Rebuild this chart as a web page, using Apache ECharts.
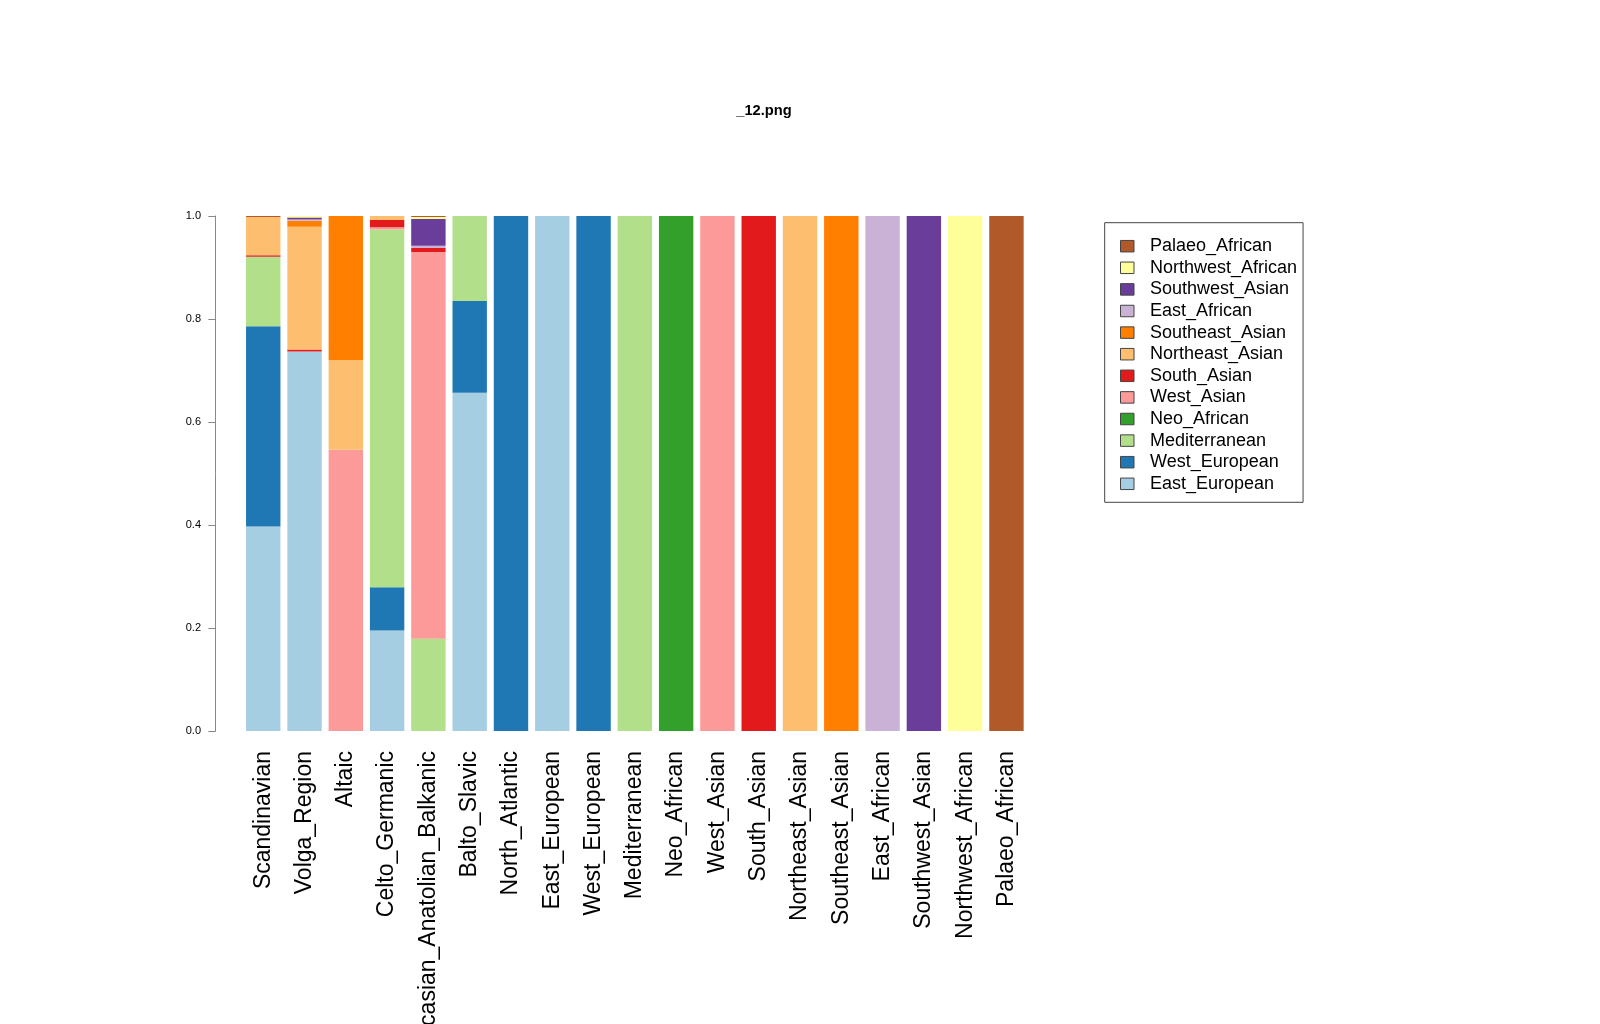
<!DOCTYPE html>
<html>
<head>
<meta charset="utf-8">
<script src="https://cdn.jsdelivr.net/npm/echarts@6/dist/echarts.min.js"></script>
<style>html,body{margin:0;padding:0;background:#fff}#c{width:1600px;height:1024px}</style>
</head>
<body>
<div id="c"></div>
<script>
const categories = ["Scandinavian","Volga_Region","Altaic","Celto_Germanic","Caucasian_Anatolian_Balkanic","Balto_Slavic","North_Atlantic","East_European","West_European","Mediterranean","Neo_African","West_Asian","South_Asian","Northeast_Asian","Southeast_Asian","East_African","Southwest_Asian","Northwest_African","Palaeo_African"];
const componentNames = ["East_European","West_European","Mediterranean","Neo_African","West_Asian","South_Asian","Northeast_Asian","Southeast_Asian","East_African","Southwest_Asian","Northwest_African","Palaeo_African"];
const componentColors = ["#A6CEE3","#1F78B4","#B2DF8A","#33A02C","#FB9A99","#E31A1C","#FDBF6F","#FF7F00","#CAB2D6","#6A3D9A","#FFFF99","#B15928"];
const East_European    = [0.397,0.737,0,0.195,0,0.657,0,1,0,0,0,0,0,0,0,0,0,0,0];
const West_European    = [0.389,0,0,0.084,0,0.178,1,0,1,0,0,0,0,0,0,0,0,0,0];
const Mediterranean    = [0.135,0,0,0.695,0.179,0.165,0,0,0,1,0,0,0,0,0,0,0,0,0];
const Neo_African      = [0,0,0,0,0,0,0,0,0,0,1,0,0,0,0,0,0,0,0];
const West_Asian       = [0,0,0.546,0.004,0.751,0,0,0,0,0,0,1,0,0,0,0,0,0,0];
const South_Asian      = [0.003,0.004,0,0.014,0.008,0,0,0,0,0,0,0,1,0,0,0,0,0,0];
const Northeast_Asian  = [0.074,0.238,0.174,0.008,0,0,0,0,0,0,0,0,0,1,0,0,0,0,0];
const Southeast_Asian  = [0,0.012,0.280,0,0,0,0,0,0,0,0,0,0,0,1,0,0,0,0];
const East_African     = [0,0.002,0,0,0.004,0,0,0,0,0,0,0,0,0,0,1,0,0,0];
const Southwest_Asian  = [0,0.004,0,0,0.052,0,0,0,0,0,0,0,0,0,0,0,1,0,0];
const Northwest_African= [0,0.003,0,0,0.004,0,0,0,0,0,0,0,0,0,0,0,0,1,0];
const Palaeo_African   = [0.002,0,0,0,0.002,0,0,0,0,0,0,0,0,0,0,0,0,0,1];
const seriesValues = [East_European,West_European,Mediterranean,Neo_African,West_Asian,South_Asian,Northeast_Asian,Southeast_Asian,East_African,Southwest_Asian,Northwest_African,Palaeo_African];
const yTicks = [0,0.2,0.4,0.6,0.8,1.0];
const titleText = "_12.png";

const FONT = "Liberation Sans, Arial, Helvetica, sans-serif";
const chart = echarts.init(document.getElementById('c'), null, {renderer:'canvas'});
const series = componentNames.map((n,i)=>({
  name:n, type:'bar', stack:'all', data:seriesValues[i],
  itemStyle:{color:componentColors[i]}, barCategoryGap:'16.667%',
  emphasis:{disabled:true}
}));
chart.setOption({
  backgroundColor:'#ffffff',
  animation:false,
  textStyle:{fontFamily:FONT},
  title:{text:titleText,left:759,top:98,textAlign:'center',
    textStyle:{fontSize:14.7,fontWeight:'bold',color:'#000',fontFamily:FONT}},
  grid:{left:242.6,right:572.9,top:216,bottom:293,containLabel:false,outerBoundsMode:'none'},
  xAxis:{type:'category',data:categories,
    axisLine:{show:false},axisTick:{show:false},
    axisLabel:{rotate:90,fontSize:23,color:'#000',margin:20,interval:0,fontFamily:FONT}},
  yAxis:{type:'value',min:0,max:1,interval:0.2,offset:26.9,
    axisLine:{show:true,lineStyle:{color:'#888',width:1}},
    axisTick:{show:true,length:7.4,lineStyle:{color:'#888'}},
    splitLine:{show:false},
    axisLabel:{fontSize:11,color:'#000',margin:14.7,fontFamily:FONT,
      formatter:v=>{const t=yTicks.find(x=>Math.abs(x-v)<1e-9);return (t!==undefined?t:v).toFixed(1);}}},
  legend:{orient:'vertical',left:1104.7,top:222.7,
    data:componentNames.slice().reverse(),
    icon:'rect',itemWidth:13.5,itemHeight:11.5,itemGap:3.6,
    padding:[14.5,6,9.5,15.3],
    borderColor:'#444',borderWidth:1,
    itemStyle:{borderColor:'#444',borderWidth:1},
    textStyle:{fontSize:18,color:'#000',lineHeight:18,padding:[0,0,0,11],fontFamily:FONT},
    selectedMode:false},
  series:series
});
</script>
</body>
</html>
